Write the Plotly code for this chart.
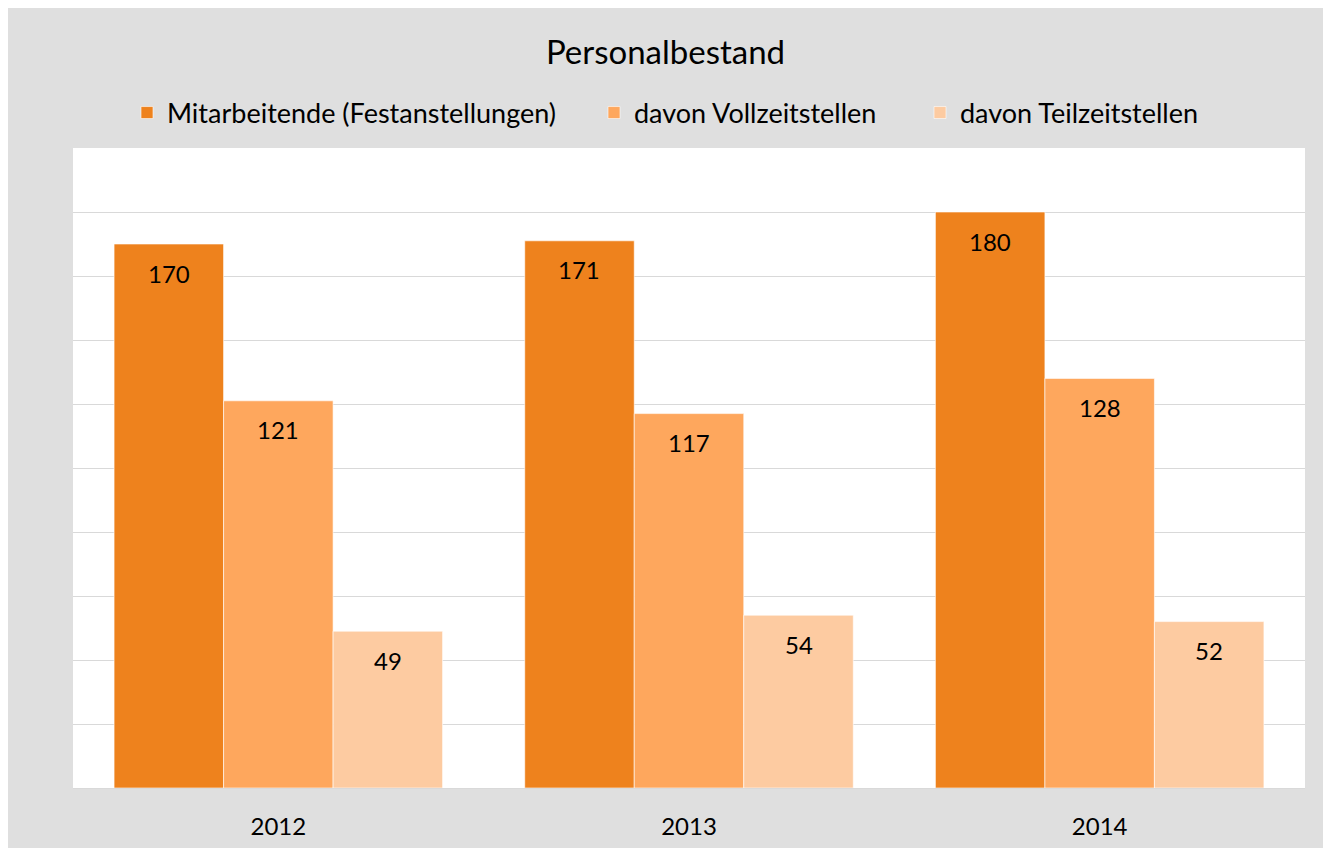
import plotly.graph_objects as go

years = ["2012", "2013", "2014"]
series_names = ["Mitarbeitende (Festanstellungen)", "davon Vollzeitstellen", "davon Teilzeitstellen"]
mitarbeitende = [170, 171, 180]
vollzeit = [121, 117, 128]
teilzeit = [49, 54, 52]
colors = ["#EE821D", "#FEA75D", "#FDCBA1"]
grid_vals = [20, 40, 60, 80, 100, 120, 140, 160, 180]

FONT = "Lato"
W, H = 1315, 840
ML, MR, MT, MB = 65, 18, 140, 60
PW, PH = W - ML - MR, H - MT - MB
BARGAP = 0.2

# left pixel (figure coords) of each legend block
legend_left_px = [119, 586, 912]
legend_names = ["legend", "legend2", "legend3"]

series = [mitarbeitende, vollzeit, teilzeit]
fig = go.Figure()
for name, vals, col, lg in zip(series_names, series, colors, legend_names):
    fig.add_trace(go.Bar(
        x=years, y=vals, name=name, legend=lg,
        marker=dict(color=col, line=dict(color="rgba(255,255,255,0.6)", width=1)),
        hoverinfo="x+y+name",
    ))

# data labels placed just below the top of each bar
n = len(series)
bw = (1 - BARGAP) / n
annotations = []
for k, vals in enumerate(series):
    for i, v in enumerate(vals):
        annotations.append(dict(
            x=i + (k - (n - 1) / 2) * bw, y=v, xref="x", yref="y",
            text=str(v), showarrow=False, yshift=-29,
            font=dict(family=FONT, size=24, color="#000000"),
        ))

legend_common = dict(orientation="h", xanchor="left",
                     y=1 + (MT - 105) / PH, yanchor="middle",
                     font=dict(family=FONT, size=27, color="#000000"),
                     bgcolor="rgba(0,0,0,0)", itemclick=False, itemwidth=30)
legend_layout = {}
for lg, lx in zip(legend_names, legend_left_px):
    legend_layout[lg] = dict(legend_common, x=(lx - ML) / PW)

fig.update_layout(
    width=W, height=H,
    margin=dict(l=ML, r=MR, t=MT, b=MB, autoexpand=False),
    paper_bgcolor="#DFDFDF", plot_bgcolor="#FFFFFF",
    barmode="group", bargap=BARGAP, bargroupgap=0,
    title=dict(text="Personalbestand", x=0.5, xanchor="center",
               y=1 - 44 / H, yanchor="middle",
               font=dict(family=FONT, size=33, color="#000000")),
    font=dict(family=FONT, color="#000000"),
    annotations=annotations,
    showlegend=True,
    **legend_layout,
)
fig.update_xaxes(showline=True, linecolor="#D9D9D9", linewidth=1, ticks="",
                 automargin=False,
                 ticklabelstandoff=17, tickfont=dict(family=FONT, size=24, color="#000000"),
                 showgrid=False)
fig.update_yaxes(range=[0, 200], tickvals=grid_vals, showticklabels=False,
                 automargin=False,
                 showgrid=True, gridcolor="#D9D9D9", gridwidth=1, zeroline=False)

fig.write_html(
    "out.html",
    post_script=(
        "document.body.style.margin='8px 0 0 8px';"
        "document.body.style.fontSize='0';"
        "document.body.style.lineHeight='0';"
        "document.body.style.overflow='hidden';"
        "document.documentElement.style.overflow='hidden';"
    ),
)
